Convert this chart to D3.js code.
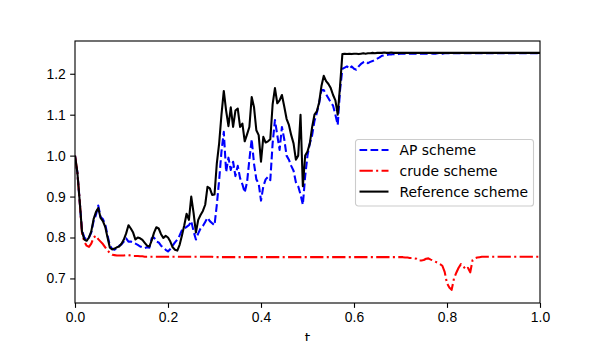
<!DOCTYPE html>
<html>
<head>
<meta charset="utf-8">
<script src="https://cdn.jsdelivr.net/npm/d3@7"></script>
<style>
  body { margin: 0; background: #fff; }
  svg { font-family: "DejaVu Sans", sans-serif; }
  .tick text { font-size: 13.89px; fill: #000; }
</style>
</head>
<body>
<svg id="app" width="600" height="341"></svg>
<script>
// time grid (step 0.005)
const tGrid = d3.range(0, 201).map(i => i / 200);

const apScheme = [
  1.000,0.960,0.890,0.818,0.800,0.795,0.800,0.812,0.840,0.855,
  0.878,0.850,0.845,0.832,0.805,0.780,0.772,0.770,0.775,0.780,
  0.783,0.790,0.798,0.790,0.790,0.788,0.785,0.782,0.778,0.776,
  0.774,0.776,0.775,0.798,0.800,0.790,0.788,0.780,0.775,0.770,
  0.766,0.772,0.780,0.788,0.795,0.805,0.818,0.822,0.826,0.830,
  0.840,0.815,0.795,0.810,0.822,0.828,0.838,0.848,0.840,0.835,
  0.830,0.880,0.940,1.010,1.058,0.960,0.995,0.965,0.985,0.950,
  0.975,0.945,0.930,0.910,0.935,0.990,1.040,0.980,0.942,0.932,
  0.890,0.925,0.942,0.948,0.940,1.030,1.087,1.050,1.014,1.070,
  1.040,1.000,0.990,0.975,0.963,0.935,0.925,0.905,0.880,0.950,
  1.000,1.030,1.050,1.085,1.104,1.128,1.160,1.160,1.150,1.140,
  1.130,1.122,1.100,1.075,1.160,1.212,1.215,1.218,1.212,1.218,
  1.212,1.210,1.218,1.224,1.228,1.230,1.226,1.229,1.231,1.234,
  1.237,1.240,1.244,1.245,1.246,1.247,1.247,1.248,1.248,1.248,
  1.249,1.249,1.249,1.249,1.249,1.249,1.249,1.249,1.249,1.249,
  1.249,1.249,1.249,1.250,1.249,1.249,1.250,1.250,1.249,1.250,
  1.250,1.250,1.250,1.250,1.250,1.250,1.250,1.250,1.250,1.250,
  1.250,1.250,1.250,1.250,1.250,1.250,1.250,1.250,1.250,1.250,
  1.250,1.250,1.250,1.250,1.250,1.250,1.250,1.250,1.250,1.250,
  1.250,1.250,1.250,1.250,1.250,1.250,1.250,1.250,1.250,1.250,
  1.250
];

const crudeScheme = [
  1.000,0.960,0.890,0.812,0.790,0.780,0.777,0.785,0.800,0.804,
  0.796,0.790,0.784,0.776,0.768,0.762,0.758,0.757,0.756,0.756,
  0.756,0.756,0.757,0.757,0.756,0.755,0.755,0.755,0.754,0.754,
  0.753,0.753,0.753,0.753,0.753,0.753,0.753,0.753,0.753,0.753,
  0.753,0.753,0.753,0.753,0.753,0.753,0.753,0.753,0.753,0.753,
  0.753,0.753,0.753,0.753,0.753,0.753,0.753,0.753,0.753,0.753,
  0.752,0.752,0.752,0.752,0.752,0.752,0.752,0.752,0.752,0.752,
  0.752,0.752,0.752,0.752,0.752,0.752,0.752,0.752,0.752,0.752,
  0.752,0.752,0.752,0.752,0.752,0.752,0.752,0.752,0.752,0.752,
  0.752,0.752,0.752,0.752,0.752,0.752,0.752,0.752,0.752,0.752,
  0.752,0.752,0.752,0.752,0.752,0.752,0.752,0.752,0.752,0.752,
  0.752,0.752,0.752,0.752,0.752,0.752,0.752,0.752,0.752,0.752,
  0.752,0.752,0.752,0.752,0.752,0.752,0.752,0.752,0.752,0.752,
  0.752,0.752,0.752,0.752,0.752,0.752,0.752,0.752,0.752,0.752,
  0.752,0.752,0.751,0.751,0.750,0.750,0.749,0.748,0.744,0.744,
  0.745,0.748,0.749,0.746,0.744,0.741,0.738,0.735,0.731,0.716,
  0.688,0.678,0.672,0.700,0.714,0.726,0.735,0.730,0.722,0.726,
  0.715,0.745,0.749,0.751,0.752,0.753,0.753,0.753,0.753,0.753,
  0.753,0.753,0.753,0.753,0.753,0.753,0.753,0.753,0.753,0.753,
  0.753,0.753,0.753,0.753,0.753,0.753,0.753,0.753,0.753,0.753,
  0.753
];

const refScheme = [
  1.000,0.960,0.890,0.815,0.795,0.792,0.800,0.815,0.845,0.862,
  0.872,0.848,0.840,0.826,0.800,0.775,0.771,0.773,0.776,0.778,
  0.785,0.795,0.810,0.830,0.822,0.812,0.795,0.800,0.798,0.794,
  0.787,0.780,0.778,0.793,0.812,0.825,0.822,0.808,0.799,0.804,
  0.800,0.790,0.776,0.770,0.768,0.782,0.805,0.830,0.858,0.843,
  0.900,0.860,0.812,0.843,0.855,0.865,0.880,0.924,0.920,0.904,
  0.905,0.981,1.030,1.100,1.158,1.110,1.072,1.118,1.070,1.110,
  1.115,1.070,1.078,1.035,1.052,1.070,1.143,1.118,1.062,1.050,
  0.985,1.046,1.032,1.035,1.040,1.125,1.165,1.128,1.135,1.148,
  1.120,1.090,1.075,1.050,1.030,0.990,1.000,1.100,0.925,1.000,
  1.010,1.030,1.070,1.100,1.108,1.130,1.170,1.195,1.182,1.175,
  1.165,1.148,1.135,1.100,1.170,1.248,1.249,1.248,1.249,1.248,
  1.249,1.249,1.248,1.249,1.250,1.249,1.250,1.250,1.251,1.250,
  1.251,1.251,1.251,1.252,1.251,1.251,1.252,1.251,1.251,1.251,
  1.251,1.251,1.251,1.251,1.251,1.251,1.251,1.251,1.251,1.251,
  1.251,1.251,1.251,1.251,1.251,1.251,1.251,1.251,1.251,1.251,
  1.251,1.251,1.251,1.251,1.251,1.251,1.251,1.251,1.251,1.251,
  1.251,1.251,1.251,1.251,1.251,1.251,1.251,1.251,1.251,1.251,
  1.251,1.251,1.251,1.251,1.251,1.251,1.251,1.251,1.251,1.251,
  1.251,1.251,1.251,1.251,1.251,1.251,1.251,1.251,1.251,1.251,
  1.251
];

const xTicks = [0.0, 0.2, 0.4, 0.6, 0.8, 1.0];
const yTicks = [0.7, 0.8, 0.9, 1.0, 1.1, 1.2];
const xDomain = [0, 1];
const yDomain = [0.640, 1.280];

const series = [
  { name: "AP scheme", values: apScheme, color: "#0000ff", dash: "7.7,3.33" },
  { name: "crude scheme", values: crudeScheme, color: "#ff0000", dash: "13.3,3.33,2.08,3.33" },
  { name: "Reference scheme", values: refScheme, color: "#000000", dash: null }
];

const MARGIN = { TOP: 41, RIGHT: 60, BOTTOM: 38, LEFT: 75 };
const SVG_WIDTH = 600, SVG_HEIGHT = 341;
const W = SVG_WIDTH - MARGIN.LEFT - MARGIN.RIGHT;
const H = SVG_HEIGHT - MARGIN.TOP - MARGIN.BOTTOM;
const FONT = 13.89;   // 10pt @ 100dpi
const LW = 2.08;      // 1.5pt

const svg = d3.select("#app");
const g = svg.append("g").attr("transform", `translate(${MARGIN.LEFT},${MARGIN.TOP})`);

const xScale = d3.scaleLinear().domain(xDomain).range([0, W]);
const yScale = d3.scaleLinear().domain(yDomain).range([H, 0]);

svg.append("defs").append("clipPath").attr("id", "plotclip")
  .append("rect").attr("width", W).attr("height", H);

// lines
const line = d3.line()
  .x((d, i) => xScale(tGrid[i]))
  .y(d => yScale(d));

g.append("g").attr("clip-path", "url(#plotclip)")
  .selectAll("path")
  .data(series)
  .enter()
  .append("path")
  .attr("d", d => line(d.values))
  .attr("fill", "none")
  .attr("stroke", d => d.color)
  .attr("stroke-width", LW)
  .attr("stroke-dasharray", d => d.dash)
  .attr("stroke-linejoin", "round");

// axes
const xAxis = d3.axisBottom(xScale).tickValues(xTicks)
  .tickFormat(d3.format(".1f")).tickSize(4.86).tickPadding(4.4);
g.append("g").attr("transform", `translate(0,${H})`).call(xAxis)
  .call(a => a.select(".domain").remove());

const yAxis = d3.axisLeft(yScale).tickValues(yTicks)
  .tickFormat(d3.format(".1f")).tickSize(4.86).tickPadding(4.4);
g.append("g").call(yAxis)
  .call(a => a.select(".domain").remove());

g.selectAll(".tick line").attr("stroke", "#000").attr("stroke-width", 1.11);

// frame
g.append("rect")
  .attr("width", W).attr("height", H)
  .attr("fill", "none").attr("stroke", "#000").attr("stroke-width", 1.11);

// x label (partly below the window edge, as in the original)
g.append("text")
  .attr("x", W / 2).attr("y", H + 40)
  .attr("text-anchor", "middle")
  .attr("font-size", FONT)
  .attr("fill", "#000")
  .text("t");

// legend
const legend = svg.append("g").attr("transform", "translate(355.5,139.5)");
legend.append("rect")
  .attr("width", 178).attr("height", 66.5)
  .attr("rx", 2.8)
  .attr("fill", "#fff").attr("fill-opacity", 0.8)
  .attr("stroke", "#cccccc").attr("stroke-width", 1.1);

const rows = legend.selectAll(".row")
  .data(series)
  .enter()
  .append("g")
  .attr("class", "row")
  .attr("transform", (d, i) => `translate(0,${10.5 + i * 20.8})`);

rows.append("line")
  .attr("x1", 4).attr("x2", 33)
  .attr("stroke", d => d.color)
  .attr("stroke-width", LW)
  .attr("stroke-dasharray", d => d.dash);

rows.append("text")
  .attr("x", 44).attr("y", 0)
  .attr("dy", "0.36em")
  .attr("font-size", FONT)
  .attr("fill", "#000")
  .text(d => d.name);
</script>
</body>
</html>
